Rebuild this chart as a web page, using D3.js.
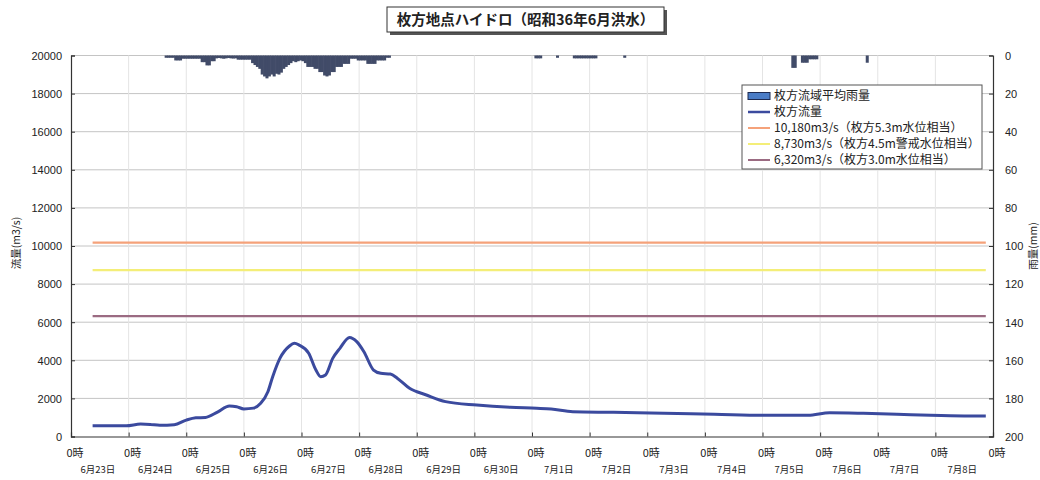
<!DOCTYPE html>
<html>
<head>
<meta charset="utf-8">
<script src="https://cdn.jsdelivr.net/npm/d3@7"></script>
<style>
  html, body { margin: 0; padding: 0; background: #fff; }
  svg { display: block; }
  .num { font-family: "Liberation Sans", Arial, sans-serif; }
  .jp { font-family: "Noto Sans CJK JP", sans-serif; }
</style>
</head>
<body>
<svg id="chart" width="1040" height="480"></svg>
<script>
// 枚方地点ハイドロ（昭和36年6月洪水）
const title = "枚方地点ハイドロ（昭和36年6月洪水）";

// Discharge at Hirakata (m3/s)
const flowTimes = [
  "1961-06-23T09:00", "1961-06-23T23:00", "1961-06-24T05:00", "1961-06-24T09:00",
  "1961-06-24T13:00", "1961-06-24T19:00", "1961-06-25T00:00", "1961-06-25T04:00",
  "1961-06-25T08:00", "1961-06-25T13:00", "1961-06-25T18:00", "1961-06-25T21:00",
  "1961-06-26T00:00", "1961-06-26T04:00", "1961-06-26T07:00", "1961-06-26T10:00",
  "1961-06-26T12:00", "1961-06-26T15:00", "1961-06-26T19:00", "1961-06-26T21:00",
  "1961-06-26T23:00", "1961-06-27T03:00", "1961-06-27T06:00", "1961-06-27T08:00",
  "1961-06-27T10:00", "1961-06-27T13:00", "1961-06-27T16:00", "1961-06-27T20:00",
  "1961-06-27T23:00", "1961-06-28T02:00", "1961-06-28T06:00", "1961-06-28T09:00",
  "1961-06-28T13:00", "1961-06-28T16:00", "1961-06-28T21:00", "1961-06-29T04:00",
  "1961-06-29T12:00", "1961-06-30T01:00", "1961-06-30T15:00", "1961-07-01T02:00",
  "1961-07-01T08:00", "1961-07-01T17:00", "1961-07-02T10:00", "1961-07-03T07:00",
  "1961-07-04T04:00", "1961-07-05T00:00", "1961-07-05T19:00", "1961-07-06T04:00",
  "1961-07-06T18:00", "1961-07-07T08:00", "1961-07-07T22:00", "1961-07-08T12:00",
  "1961-07-08T21:00"
];
const flowValues = [
  560, 560, 650, 630,
  590, 620, 860, 980,
  1000, 1280, 1600, 1560,
  1450, 1490, 1740, 2350,
  3140, 4100, 4750, 4890,
  4800, 4370, 3490, 3140,
  3230, 4100, 4630, 5200,
  4980, 4450, 3490, 3320,
  3280, 3050, 2530, 2180,
  1830, 1650, 1530, 1480,
  1440, 1300, 1270, 1220,
  1170, 1110, 1110, 1250,
  1220, 1170, 1110, 1080,
  1080
];

// Basin-average hourly rainfall (mm), hours 0..23 of each listed day
const rainDays = ["1961-06-24", "1961-06-25", "1961-06-26", "1961-06-27", "1961-06-28",
                  "1961-07-01", "1961-07-02", "1961-07-05", "1961-07-06"];
const rainHourly = [
  [0,0,0,0,0,0,0,0,0,0,0,0,0,0,0, 1.2,1.2,1.2,1.2,2.6,2.6,2.6,1.7,1.7],
  [1.7,1.7,1.7,1.7,1.7,1.7,3.5,3.5,5.2,5.2,3.0,3.0,1.5,1.3,1.5,1.7,1.5,1.3,1.5,1.6,1.5,2.2,2.2,2.2],
  [2.2,2.2,2.2,4,5,6,7,10,11,12,11,10,11,9.6,10,9,7,6,5,4,3,3.5,3,2.6],
  [3,4,6,6,6,7,7,8.7,8.7,10.5,11,10.5,8.7,8.7,6,6,6,4.4,4.4,4.4,1.7,1.7,1.7,2.6],
  [2.6,2.6,2.6,4.4,4.4,4.4,4.4,2.6,2.6,2.6,2.6,1.2,1.2,0,0,0,0,0,0,0,0,0,0,0],
  [0,1.5,1.5,1.5,0,0,0,0,0,0,1.2,0,0,0,0,0,0,1.5,1.5,1.5,1.5,1.5,1.5,1.5],
  [1.5,1.5,1.5,0,0,0,0,0,0,0,0,0,0,0,1.2,0,0,0,0,0,0,0,0,0],
  [0,0,0,0,0,0,0,0,0,0,0,0,6.5,6.5,0,0,3.8,3.8,3.8,2,2,2,2,0],
  [0,0,0,0,0,0,0,0,0,0,0,0,0,0,0,0,0,0,0,3.8,0,0,0,0]
];

// Reference discharges (m3/s)
const refValues = [10180, 8730, 6320];
const refColors = ["#f5a27a", "#f4ee78", "#9b6b82"];

// Legend entries
const legendLabels = [
  "枚方流域平均雨量",
  "枚方流量",
  "10,180m3/s（枚方5.3m水位相当）",
  "8,730m3/s（枚方4.5m警戒水位相当）",
  "6,320m3/s（枚方3.0m水位相当）"
];

// Axis ticks
const flowTicks = [0, 2000, 4000, 6000, 8000, 10000, 12000, 14000, 16000, 18000, 20000];
const rainTicks = [0, 20, 40, 60, 80, 100, 120, 140, 160, 180, 200];
const dayLabels = ["6月23日", "6月24日", "6月25日", "6月26日", "6月27日", "6月28日", "6月29日", "6月30日",
                   "7月1日", "7月2日", "7月3日", "7月4日", "7月5日", "7月6日", "7月7日", "7月8日"];
const hourLabel = "0時";
const flowAxisTitle = "流量(m3/s)";
const rainAxisTitle = "雨量(mm)";

const svg = d3.select("#chart");
const parse = d3.timeParse("%Y-%m-%dT%H:%M");
const parseDay = d3.timeParse("%Y-%m-%d");

const plotL = 71, plotR = 993, plotT = 55.5, plotB = 436.5;
const start = parseDay("1961-06-23");
const end = parseDay("1961-07-09");

const x = d3.scaleTime().domain([start, end]).range([plotL, plotR]);
const y = d3.scaleLinear().domain([0, 20000]).range([plotB, plotT]);
const yr = d3.scaleLinear().domain([0, 200]).range([plotT, plotB]);

const dayTicks = d3.timeDay.range(start, d3.timeDay.offset(end, 1));

// Gridlines
const grid = svg.append("g");
grid.selectAll("line.h").data(flowTicks.filter(d => d > 0)).join("line")
  .attr("x1", plotL).attr("x2", plotR)
  .attr("y1", d => y(d)).attr("y2", d => y(d))
  .attr("stroke", "#c4c4c4").attr("stroke-width", 1);
grid.selectAll("line.v").data(dayTicks.slice(1, -1)).join("line")
  .attr("x1", d => x(d)).attr("x2", d => x(d))
  .attr("y1", plotT).attr("y2", plotB)
  .attr("stroke", "#e4e4e4").attr("stroke-width", 1);

// Rainfall bars hanging from the top
const rain = [];
rainDays.forEach((day, i) => {
  rainHourly[i].forEach((v, h) => {
    if (v > 0) rain.push({ t: d3.timeHour.offset(parseDay(day), h), v });
  });
});
svg.append("g").selectAll("rect").data(rain).join("rect")
  .attr("x", d => x(d.t))
  .attr("width", d => x(d3.timeHour.offset(d.t, 1)) - x(d.t) + 0.6)
  .attr("y", plotT)
  .attr("height", d => yr(d.v) - yr(0))
  .attr("fill", "#414b68");

// Reference lines
svg.append("g").selectAll("line").data(refValues).join("line")
  .attr("x1", x(d3.timeHour.offset(start, 9))).attr("x2", x(d3.timeHour.offset(end, -3)))
  .attr("y1", d => y(d)).attr("y2", d => y(d))
  .attr("stroke", (d, i) => refColors[i]).attr("stroke-width", 2.2);

// Discharge line
const flow = flowTimes.map((t, i) => ({ t: parse(t), v: flowValues[i] }));
svg.append("path").datum(flow)
  .attr("fill", "none")
  .attr("stroke", "#3b4a9e")
  .attr("stroke-width", 3)
  .attr("stroke-linejoin", "round")
  .attr("d", d3.line().x(d => x(d.t)).y(d => y(d.v)).curve(d3.curveMonotoneX));

// Axes
const axL = svg.append("g").attr("transform", `translate(${plotL},0)`)
  .call(d3.axisLeft(y).tickValues(flowTicks).tickSize(-4).tickPadding(9).tickFormat(d3.format("d")));
const axR = svg.append("g").attr("transform", `translate(${plotR},0)`)
  .call(d3.axisRight(yr).tickValues(rainTicks).tickSize(-4).tickPadding(12).tickFormat(d3.format("d")));
const axB = svg.append("g").attr("transform", `translate(0,${plotB})`)
  .call(d3.axisBottom(x).tickValues(dayTicks).tickSize(-4).tickFormat(() => ""));

[axL, axR, axB].forEach(a => {
  a.select(".domain").attr("stroke", "#333").attr("stroke-width", 1.2);
  a.selectAll(".tick line").attr("stroke", "#333");
  a.selectAll("text").attr("class", "num").attr("font-size", 11).attr("fill", "#222");
});
axL.selectAll(".tick text").attr("dy", "0.35em");
axR.selectAll(".tick text").attr("dy", "0.35em");

// Two-level time labels
const xl = svg.append("g").attr("class", "jp").attr("fill", "#222");
xl.selectAll("text.h").data(dayTicks).join("text")
  .attr("x", d => x(d) + 4).attr("y", 457)
  .attr("text-anchor", "middle").attr("font-size", 11)
  .text(hourLabel);
xl.selectAll("text.d").data(dayLabels).join("text")
  .attr("x", (d, i) => x(d3.timeHour.offset(dayTicks[i], 12)) - 2).attr("y", 473)
  .attr("text-anchor", "middle").attr("font-size", 9.5)
  .text(d => d);

// Axis titles
svg.append("text").attr("class", "jp").attr("font-size", 10.5).attr("fill", "#222")
  .attr("text-anchor", "middle")
  .attr("transform", "translate(20,243) rotate(-90)")
  .text(flowAxisTitle);
svg.append("text").attr("class", "jp").attr("font-size", 10.5).attr("fill", "#222")
  .attr("text-anchor", "middle")
  .attr("transform", "translate(1037,246) rotate(-90)")
  .text(rainAxisTitle);

// Title box with drop shadow
const tb = svg.append("g");
tb.append("rect").attr("x", 390).attr("y", 10).attr("width", 277).attr("height", 25).attr("fill", "#555");
tb.append("rect").attr("x", 387).attr("y", 7).attr("width", 277).attr("height", 25)
  .attr("fill", "#fff").attr("stroke", "#333").attr("stroke-width", 1);
tb.append("text").attr("class", "jp").attr("x", 525.5).attr("y", 25)
  .attr("text-anchor", "middle").attr("font-size", 14.5).attr("font-weight", "bold").attr("fill", "#222")
  .text(title);

// Legend
const lg = svg.append("g");
lg.append("rect").attr("x", 742).attr("y", 85).attr("width", 240).attr("height", 84)
  .attr("fill", "#fff").attr("stroke", "#555").attr("stroke-width", 1);
const rowsY = [96, 112, 128, 144, 160];
const swatchColors = ["#4a7cc6", "#3b4a9e", ...refColors];
legendLabels.forEach((lab, i) => {
  if (i === 0) {
    lg.append("rect").attr("x", 748).attr("y", rowsY[i] - 3.5).attr("width", 22).attr("height", 7)
      .attr("fill", swatchColors[i]).attr("stroke", "#1e2a50").attr("stroke-width", 1);
  } else {
    lg.append("line").attr("x1", 748).attr("x2", 770).attr("y1", rowsY[i]).attr("y2", rowsY[i])
      .attr("stroke", swatchColors[i]).attr("stroke-width", i === 1 ? 2.5 : 2);
  }
  lg.append("text").attr("class", "jp").attr("x", 774).attr("y", rowsY[i]).attr("dy", "0.35em")
    .attr("font-size", 12).attr("fill", "#222").text(lab);
});
</script>
</body>
</html>
